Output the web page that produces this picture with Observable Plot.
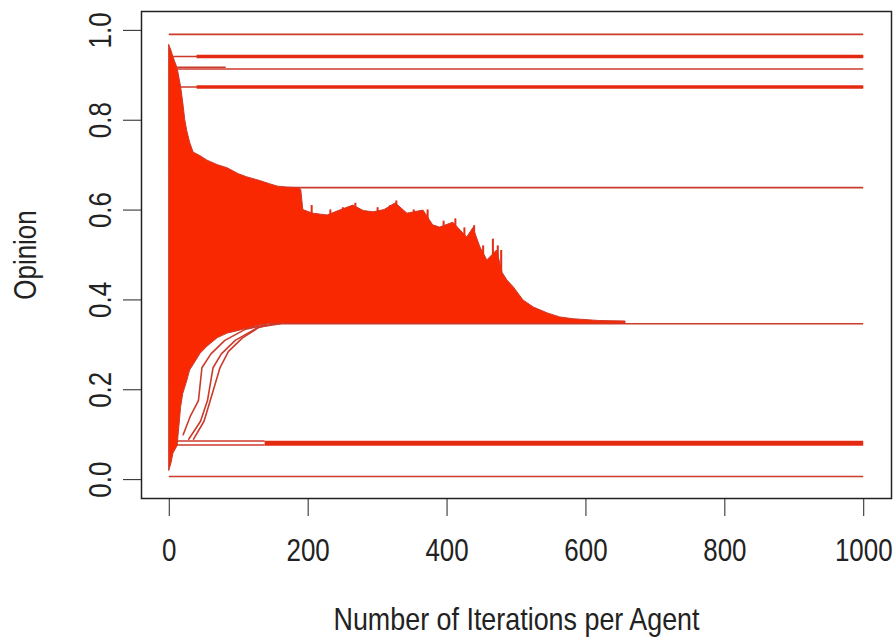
<!DOCTYPE html>
<html><head><meta charset="utf-8">
<script src="https://cdn.jsdelivr.net/npm/d3@7"></script>
<script src="https://cdn.jsdelivr.net/npm/@observablehq/plot@0.6"></script>
<style>html,body{margin:0;padding:0;background:#fff;}</style>
</head><body><div id="chart"></div>
<script>
// Axis ticks and titles
const xTicks = [0, 200, 400, 600, 800, 1000];
const yTicks = [0, 0.2, 0.4, 0.6, 0.8, 1.0];
const xTitle = ["Number of Iterations per Agent"];
const yTitle = ["Opinion"];

// Envelope of the dense bundle of agent trajectories (iteration, opinion)
const massX = [0,3,6,12,17,20,23,26,30,35,45,55,70,84,100,112,130,146,157,170,185,190,193,207,228,246,265,280,294,310,326,343,366,380,390,409,429,438,448,458,472,480,487,496,510,525,545,563,582,620,657];
const massUpper = [0.967,0.955,0.94,0.915,0.874,0.84,0.80,0.775,0.75,0.728,0.72,0.71,0.70,0.693,0.68,0.673,0.665,0.657,0.652,0.65,0.649,0.645,0.60,0.592,0.588,0.599,0.61,0.598,0.595,0.60,0.615,0.592,0.599,0.566,0.561,0.572,0.539,0.56,0.517,0.488,0.51,0.46,0.443,0.428,0.399,0.383,0.37,0.361,0.357,0.353,0.352];
const massLower = [0.02,0.035,0.058,0.075,0.16,0.19,0.205,0.22,0.243,0.255,0.28,0.296,0.315,0.325,0.331,0.336,0.343,0.347,0.347,0.347,0.347,0.347,0.347,0.347,0.347,0.347,0.347,0.347,0.347,0.347,0.347,0.347,0.347,0.347,0.347,0.347,0.347,0.347,0.347,0.347,0.347,0.347,0.347,0.347,0.347,0.347,0.347,0.347,0.347,0.347,0.347];

// Single agents poking above the bundle (iteration, highest opinion)
const spikeX   = [205, 232, 250, 268, 300, 318, 327, 352, 372, 395, 412, 425, 439, 452, 466, 473, 478];
const spikeTop = [0.61, 0.60, 0.605, 0.615, 0.605, 0.61, 0.62, 0.60, 0.60, 0.575, 0.58, 0.56, 0.565, 0.52, 0.535, 0.52, 0.51];

// Converged opinion clusters (few agents): opinion, first iteration, last iteration
const thinOpinion = [0.991, 0.942, 0.914, 0.918, 0.874, 0.650, 0.347, 0.077, 0.086, 0.007];
const thinStart   = [0,     6,     12,    12,    16,    150,   146,   10,    10,    0];
const thinEnd     = [1000,  1000,  1000,  82,    1000,  1000,  1000,  138,   138,   1000];
// Clusters holding several agents (drawn heavier)
const heavyOpinion = [0.942, 0.874];
const heavyStart   = [40, 40];
const densestOpinion = [0.081];
const densestStart   = [138];

// Individual trajectories drifting from the low cluster up to 0.35
const trajAx = [20, 30, 42, 47, 60, 80, 110, 140];
const trajAy = [0.10, 0.14, 0.176, 0.249, 0.28, 0.31, 0.335, 0.345];
const trajBx = [28, 45, 55, 63, 75, 95, 127, 150];
const trajBy = [0.09, 0.13, 0.176, 0.249, 0.28, 0.31, 0.338, 0.347];
const trajCx = [35, 50, 59, 73, 85, 105, 130, 160];
const trajCy = [0.09, 0.13, 0.176, 0.249, 0.285, 0.315, 0.34, 0.347];

const mass = massX.map((x, i) => ({x, hi: massUpper[i], lo: massLower[i]}));
const spikes = spikeX.map((x, i) => ({x, top: spikeTop[i]}));
const thin = thinOpinion.map((y, i) => ({y, x1: thinStart[i], x2: thinEnd[i]}));
const heavy = heavyOpinion.map((y, i) => ({y, x1: heavyStart[i], x2: 1000}));
const densest = densestOpinion.map((y, i) => ({y, x1: densestStart[i], x2: 1000}));
const traj = [
  ...trajAx.map((x, i) => ({id: "A", x, y: trajAy[i]})),
  ...trajBx.map((x, i) => ({id: "B", x, y: trajBy[i]})),
  ...trajCx.map((x, i) => ({id: "C", x, y: trajCy[i]}))
];

const RED = "#fa2800";
const EDGE = "#cc3a2c";

const chart = Plot.plot({
  width: 895,
  height: 637,
  marginLeft: 141,
  marginRight: 4,
  marginTop: 11,
  marginBottom: 139,
  style: {fontFamily: "'Liberation Sans', Arial, sans-serif", fontSize: "32px", color: "#222", background: "#fff"},
  x: {domain: [-40, 1040]},
  y: {domain: [-0.042, 1.042]},
  marks: [
    Plot.ruleY(thin, {y: "y", x1: "x1", x2: "x2", stroke: EDGE, strokeWidth: 1.6}),
    Plot.ruleY(heavy, {y: "y", x1: "x1", x2: "x2", stroke: "#e42a10", strokeWidth: 3.6}),
    Plot.ruleY(densest, {y: "y", x1: "x1", x2: "x2", stroke: "#e42a10", strokeWidth: 5}),
    Plot.line(traj, {x: "x", y: "y", z: "id", stroke: EDGE, strokeWidth: 1.6}),
    Plot.ruleX(spikes, {x: "x", y1: 0.45, y2: "top", stroke: EDGE, strokeWidth: 2}),
    Plot.areaY(mass, {x: "x", y1: "lo", y2: "hi", fill: RED, stroke: EDGE, strokeWidth: 1}),
    Plot.ruleX(spikes, {x: "x", y1: 0.45, y2: "top", stroke: RED, strokeWidth: 1}),
    Plot.frame({stroke: "#222", strokeWidth: 1.5}),
    Plot.axisX({ticks: xTicks, tickSize: 18, tickPadding: 22, tickFormat: d => String(d), label: null}),
    Plot.axisY({ticks: yTicks, tickSize: 18, tickPadding: 13, tickRotate: -90, tickFormat: d3.format(".1f"), label: null}),
    Plot.text(xTitle, {text: d => d, frameAnchor: "bottom", textAnchor: "middle", lineAnchor: "middle", dy: 121, fill: "#222"}),
    Plot.text(yTitle, {text: d => d, frameAnchor: "left", textAnchor: "middle", lineAnchor: "middle", rotate: -90, dx: -116, fill: "#222"})
  ]
});
// narrow the glyphs horizontally, like the condensed Helvetica of the original
chart.querySelectorAll("text").forEach(t => {
  const tr = t.getAttribute("transform") || "";
  const sx = t.textContent.length > 10 ? 0.84 : 0.81;
  t.setAttribute("transform", tr + ` scale(${sx},1)`);
});
document.getElementById("chart").appendChild(chart);
</script>
</body></html>
